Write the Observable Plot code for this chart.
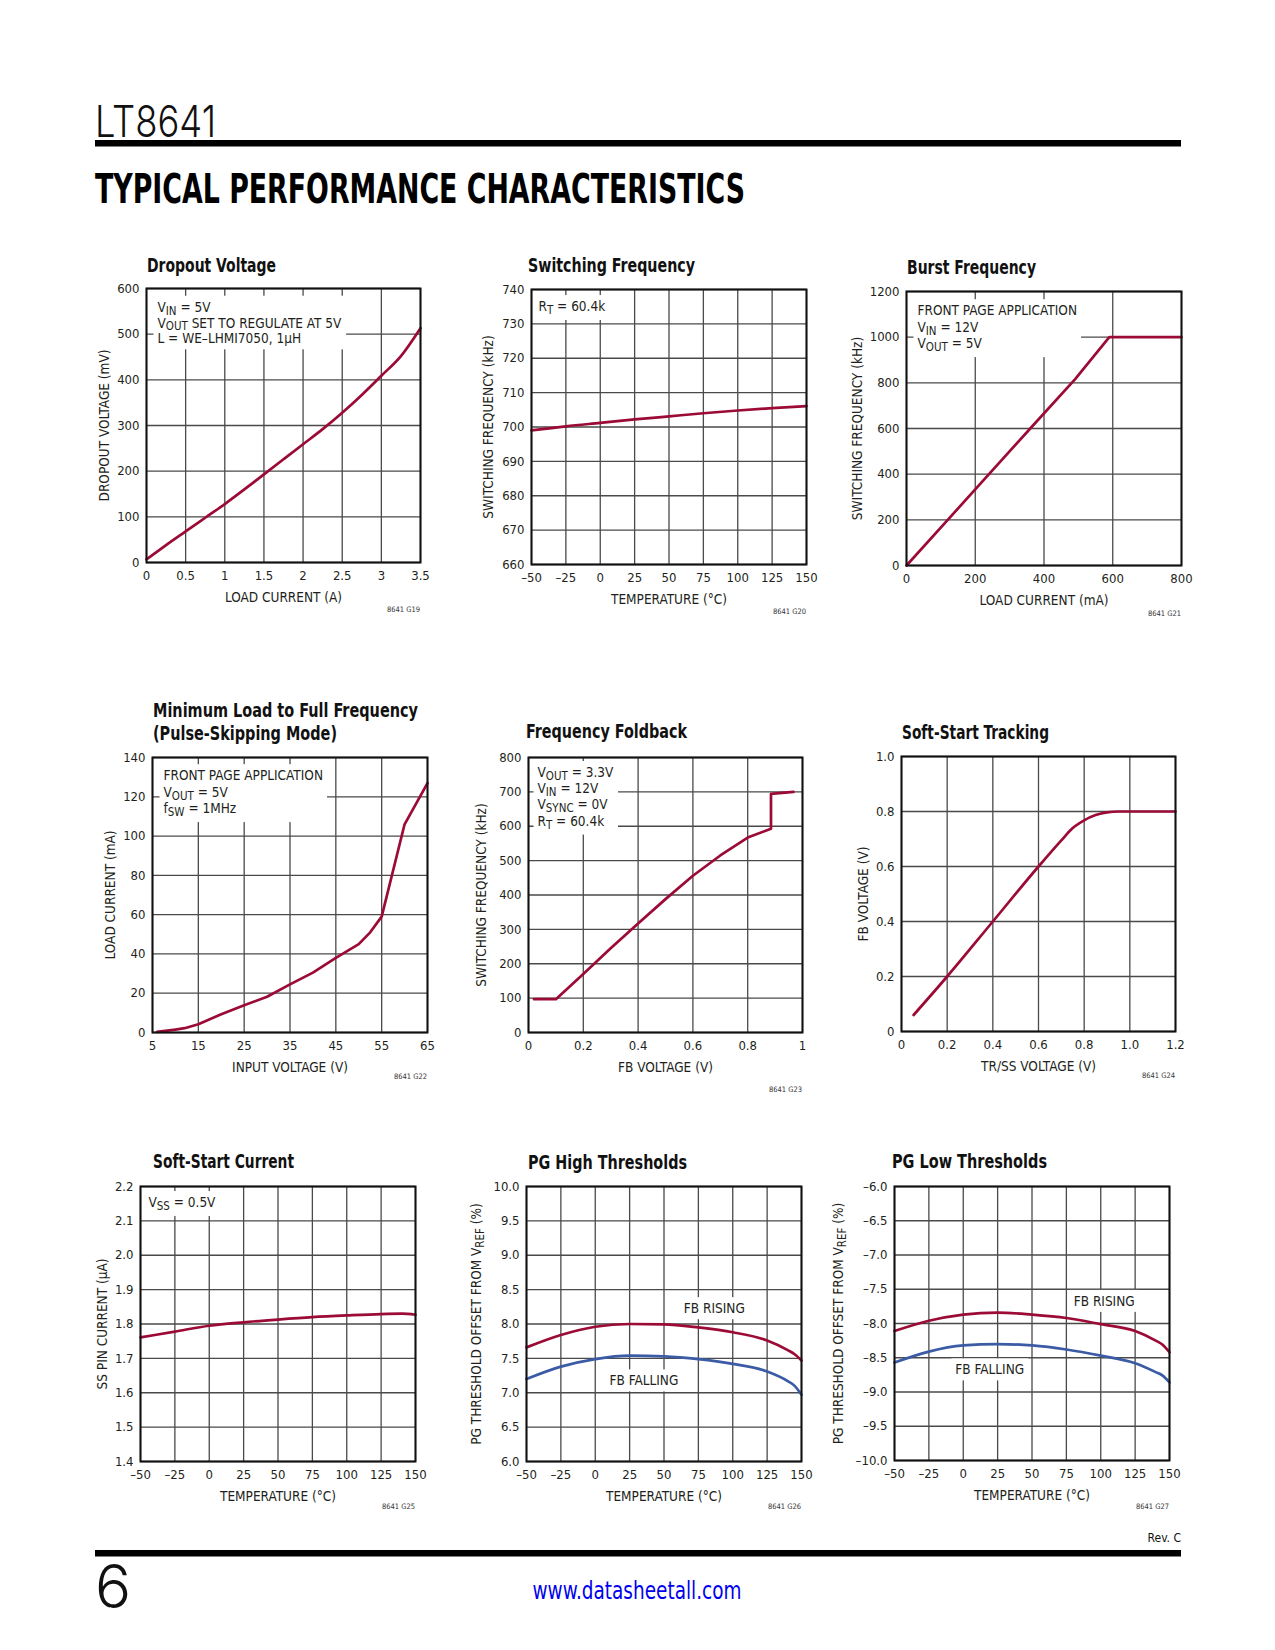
<!DOCTYPE html>
<html><head><meta charset="utf-8">
<script src="https://cdn.jsdelivr.net/npm/d3@7"></script>
<script src="https://cdn.jsdelivr.net/npm/@observablehq/plot@0.6"></script>
<style>
html,body{margin:0;padding:0;background:#fff;}
#page{position:relative;width:1275px;height:1650px;overflow:hidden;background:#fff;}
#deco{position:absolute;left:0;top:0;}
</style></head><body><div id="page"><svg id="deco" width="1275" height="1650"></svg></div>
<script>
// ---------------- DATA ----------------
// Dropout Voltage
const dropoutCurrent = [0, 0.25, 0.5, 0.75, 1, 1.25, 1.5, 1.75, 2, 2.25, 2.5, 2.75, 3, 3.25, 3.5];
const dropoutVoltage = [7, 38, 68, 98, 128, 160, 193, 226, 259, 292, 328, 367, 409, 452, 513];
const dropoutXTicks = [0, 0.5, 1, 1.5, 2, 2.5, 3, 3.5];
const dropoutYTicks = [0, 100, 200, 300, 400, 500, 600];

// Switching Frequency
const swTemp = [-50, -25, 0, 25, 50, 75, 100, 125, 150];
const swFreq = [699.0, 700.2, 701.2, 702.2, 703.1, 704.0, 704.8, 705.5, 706.1];
const tempTicks = [-50, -25, 0, 25, 50, 75, 100, 125, 150];
const swFreqTicks = [660, 670, 680, 690, 700, 710, 720, 730, 740];

// Burst Frequency
const burstLoad = [0, 120, 240, 360, 490, 590, 800];
const burstFreq = [0, 200, 400, 600, 815, 1000, 1000];
const burstXTicks = [0, 200, 400, 600, 800];
const burstYTicks = [0, 200, 400, 600, 800, 1000, 1200];

// Minimum Load to Full Frequency
const minLoadVin = [6, 10, 12, 15, 20, 25, 30, 35, 40, 45, 50, 52.5, 55, 60, 65];
const minLoadCurrent = [0.3, 1.5, 2.2, 4.2, 9.3, 13.9, 18.2, 24.5, 30.5, 38, 45, 51, 59, 106, 127];
const minLoadXTicks = [5, 15, 25, 35, 45, 55, 65];
const minLoadYTicks = [0, 20, 40, 60, 80, 100, 120, 140];

// Frequency Foldback
const foldFB = [0.02, 0.1, 0.2, 0.3, 0.4, 0.5, 0.6, 0.7, 0.8, 0.885, 0.885, 0.967];
const foldFreq = [97, 97, 170, 245, 317, 388, 456, 515, 567, 593, 694, 700];
const foldXTicks = [0, 0.2, 0.4, 0.6, 0.8, 1];
const foldYTicks = [0, 100, 200, 300, 400, 500, 600, 700, 800];

// Soft-Start Tracking
const trackSS = [0.053, 0.2, 0.4, 0.6, 0.7, 0.75, 0.8, 0.85, 0.9, 0.95, 1.0, 1.2];
const trackFB = [0.06, 0.2, 0.4, 0.6, 0.695, 0.74, 0.768, 0.787, 0.797, 0.8, 0.8, 0.8];
const trackXTicks = [0, 0.2, 0.4, 0.6, 0.8, 1.0, 1.2];
const trackYTicks = [0, 0.2, 0.4, 0.6, 0.8, 1.0];

// Soft-Start Current
const ssTemp = [-50, -25, 0, 25, 50, 75, 100, 125, 140, 150];
const ssCurrent = [1.761, 1.778, 1.795, 1.805, 1.813, 1.820, 1.825, 1.829, 1.830, 1.827];
const ssYTicks = [1.4, 1.5, 1.6, 1.7, 1.8, 1.9, 2.0, 2.1, 2.2];

// PG High Thresholds
const pgHighTemp = [-50, -25, 0, 25, 50, 75, 100, 125, 140, 145, 150];
const pgHighRising = [7.66, 7.84, 7.96, 8.0, 7.995, 7.95, 7.88, 7.76, 7.62, 7.56, 7.47];
const pgHighFalling = [7.2, 7.38, 7.49, 7.54, 7.53, 7.49, 7.42, 7.31, 7.17, 7.10, 6.97];
const pgHighYTicks = [6.0, 6.5, 7.0, 7.5, 8.0, 8.5, 9.0, 9.5, 10.0];
const pgHighLabelText = ["FB RISING", "FB FALLING"];
const pgHighLabelTemp = [86.6, 35.4];
const pgHighLabelValue = [8.22, 7.17];

// PG Low Thresholds
const pgLowTemp = [-50, -25, 0, 25, 50, 75, 100, 125, 140, 145, 150];
const pgLowRising = [-8.11, -7.96, -7.87, -7.84, -7.87, -7.92, -8.01, -8.11, -8.25, -8.31, -8.42];
const pgLowFalling = [-8.57, -8.41, -8.32, -8.30, -8.32, -8.38, -8.47, -8.58, -8.71, -8.76, -8.86];
const pgLowYTicks = [-10.0, -9.5, -9.0, -8.5, -8.0, -7.5, -7.0, -6.5, -6.0];
const pgLowLabelText = ["FB RISING", "FB FALLING"];
const pgLowLabelTemp = [102.5, 19.3];
const pgLowLabelValue = [-7.68, -8.68];

// ---------------- STYLE ----------------
const FONT = '"Liberation Sans Narrow", "Arial Narrow", "DejaVu Sans Condensed", sans-serif';
const RED = "#9b0b36";
const BLUE = "#3b5ba5";
const GRID = "#4a4a4a";
const INK = "#231f20";
const TXT = 13.5;
const SUB = 0.22;

const zip = (xs, ys) => xs.map((x, i) => ({x, y: ys[i]}));
const fmtTemp = d => d < 0 ? "–" + (-d) : String(d);
const fmt1 = d => d.toFixed(1);
const fmtPlain = d => String(d);

const page = document.getElementById("page");
const NS = "http://www.w3.org/2000/svg";

function subify(root) {
  const nodes = Array.from(root.querySelectorAll("text, tspan")).filter(n =>
    n.childNodes.length === 1 && n.firstChild.nodeType === 3 && n.textContent.includes("_{"));
  for (const n of nodes) {
    const fs = parseFloat(getComputedStyle(n).fontSize) || TXT;
    const s = n.textContent;
    while (n.firstChild) n.removeChild(n.firstChild);
    let shifted = false;
    for (const p of s.split(/(_\{[^}]*\})/)) {
      if (!p) continue;
      const t = document.createElementNS(NS, "tspan");
      if (p.startsWith("_{")) {
        t.textContent = p.slice(2, -1);
        t.setAttribute("font-size", (fs * 0.85).toFixed(2));
        if (!shifted) t.setAttribute("dy", (fs * SUB).toFixed(2));
        shifted = true;
      } else {
        t.textContent = p;
        if (shifted) t.setAttribute("dy", (-fs * SUB).toFixed(2));
        shifted = false;
      }
      n.appendChild(t);
    }
    if (shifted) {
      const t = document.createElementNS(NS, "tspan");
      t.textContent = "\u200B";
      t.setAttribute("dy", (-fs * SUB).toFixed(2));
      n.appendChild(t);
    }
  }
}

// white knock-out box behind each in-plot annotation (clears the grid, as in the reference)
function knockOut(root, pad) {
  root.querySelectorAll("g[aria-label='text'] text").forEach(t => {
    const b = t.getBBox();
    const r = document.createElementNS(NS, "rect");
    r.setAttribute("x", b.x - pad);
    r.setAttribute("y", b.y - pad + 1);
    r.setAttribute("width", b.width + 2 * pad);
    r.setAttribute("height", b.height + 2 * pad - 2);
    r.setAttribute("fill", "white");
    const tr = t.getAttribute("transform");
    if (tr) r.setAttribute("transform", tr);
    t.parentNode.insertBefore(r, t);
  });
}

function annot(data, opts) {
  return Plot.text(data, {...opts, fill: INK, fontSize: TXT});
}
function note(str, dx, dy, lineHeight) {
  return annot([str], {text: d => d, frameAnchor: "top-left", textAnchor: "start", lineAnchor: "top", dx, dy, lineHeight});
}

const ML = 74, MR = 24, MT = 14, MB = 52;
function makeChart(o) {
  const marks = [
    Plot.ruleX(o.xTicks, {stroke: GRID, strokeWidth: 1.3}),
    Plot.ruleY(o.yTicks, {stroke: GRID, strokeWidth: 1.3}),
    ...(o.notes || []),
    ...o.lines,
    Plot.frame({stroke: "#111", strokeWidth: 2})
  ];
  const svg = Plot.plot({
    width: o.fw + ML + MR, height: o.fh + MT + MB,
    marginLeft: ML, marginRight: MR, marginTop: MT, marginBottom: MB,
    style: {fontFamily: FONT, fontSize: "13px", color: INK, background: "transparent", overflow: "visible"},
    x: {domain: o.xDomain, ticks: o.xTicks, tickFormat: o.xFormat || fmtPlain, tickSize: 0, tickPadding: 8,
        label: o.xLabel, labelAnchor: "center", labelOffset: 39, labelArrow: "none"},
    y: {domain: o.yDomain, ticks: o.yTicks, tickFormat: o.yFormat || fmtPlain, tickSize: 0, tickPadding: 7,
        label: o.yLabel, labelAnchor: "center", labelOffset: o.yOffset, labelArrow: "none"},
    marks
  });
  svg.style.position = "absolute";
  svg.style.left = (o.left - ML) + "px";
  svg.style.top = (o.top - MT) + "px";
  svg.style.maxWidth = "none";
  page.appendChild(svg);
  svg.querySelectorAll("g[aria-label='x-axis label'], g[aria-label='y-axis label']").forEach(g => g.setAttribute("font-size", TXT));
  subify(svg);
  knockOut(svg, 4);
}

const redLine = (data, curve) => Plot.line(data, {x: "x", y: "y", stroke: RED, strokeWidth: 2.7, curve});
const blueLine = (data, curve) => Plot.line(data, {x: "x", y: "y", stroke: BLUE, strokeWidth: 2.7, curve});

// 1 Dropout Voltage
makeChart({left: 146, top: 288, fw: 274, fh: 274, xDomain: [0, 3.5], yDomain: [0, 600],
  xTicks: dropoutXTicks, yTicks: dropoutYTicks, xLabel: "LOAD CURRENT (A)", yLabel: "DROPOUT VOLTAGE (mV)", yOffset: 47,
  notes: [note("V_{IN} = 5V\nV_{OUT} SET TO REGULATE AT 5V\nL = WE–LHMI7050, 1µH", 11, 12, 1.17)],
  lines: [redLine(zip(dropoutCurrent, dropoutVoltage), "monotone-x")]});

// 2 Switching Frequency
makeChart({left: 531, top: 289, fw: 275, fh: 275, xDomain: [-50, 150], yDomain: [660, 740],
  xTicks: tempTicks, yTicks: swFreqTicks, xFormat: fmtTemp, xLabel: "TEMPERATURE (°C)", yLabel: "SWITCHING FREQUENCY (kHz)", yOffset: 48,
  notes: [note("R_{T} = 60.4k", 7, 11, 1.1)],
  lines: [redLine(zip(swTemp, swFreq), "monotone-x")]});

// 3 Burst Frequency
makeChart({left: 906, top: 291, fw: 275, fh: 274, xDomain: [0, 800], yDomain: [0, 1200],
  xTicks: burstXTicks, yTicks: burstYTicks, xLabel: "LOAD CURRENT (mA)", yLabel: "SWITCHING FREQUENCY (kHz)", yOffset: 54,
  notes: [note("FRONT PAGE APPLICATION\nV_{IN} = 12V\nV_{OUT} = 5V", 11, 12, 1.22)],
  lines: [redLine(zip(burstLoad, burstFreq), "linear")]});

// 4 Minimum Load to Full Frequency
makeChart({left: 152, top: 757, fw: 275, fh: 275, xDomain: [5, 65], yDomain: [0, 140],
  xTicks: minLoadXTicks, yTicks: minLoadYTicks, xLabel: "INPUT VOLTAGE (V)", yLabel: "LOAD CURRENT (mA)", yOffset: 47,
  notes: [note("FRONT PAGE APPLICATION\nV_{OUT} = 5V\nf_{SW} = 1MHz", 11, 11, 1.22)],
  lines: [redLine(zip(minLoadVin, minLoadCurrent), "linear")]});

// 5 Frequency Foldback
makeChart({left: 528, top: 757, fw: 274, fh: 275, xDomain: [0, 1], yDomain: [0, 800],
  xTicks: foldXTicks, yTicks: foldYTicks, xFormat: d => (d === 0 || d === 1) ? String(d) : d.toFixed(1),
  xLabel: "FB VOLTAGE (V)", yLabel: "SWITCHING FREQUENCY (kHz)", yOffset: 52,
  notes: [note("V_{OUT} = 3.3V\nV_{IN} = 12V\nV_{SYNC} = 0V\nR_{T} = 60.4k", 9, 8, 1.2)],
  lines: [redLine(zip(foldFB, foldFreq), "linear")]});

// 6 Soft-Start Tracking
makeChart({left: 901, top: 756, fw: 274, fh: 275, xDomain: [0, 1.2], yDomain: [0, 1],
  xTicks: trackXTicks, yTicks: trackYTicks, xFormat: d => d === 0 ? "0" : d.toFixed(1), yFormat: d => d === 0 ? "0" : d.toFixed(1),
  xLabel: "TR/SS VOLTAGE (V)", yLabel: "FB VOLTAGE (V)", yOffset: 43,
  lines: [redLine(zip(trackSS, trackFB), "monotone-x")]});

// 7 Soft-Start Current
makeChart({left: 140, top: 1186, fw: 275, fh: 275, xDomain: [-50, 150], yDomain: [1.4, 2.2],
  xTicks: tempTicks, yTicks: ssYTicks, xFormat: fmtTemp, yFormat: fmt1,
  xLabel: "TEMPERATURE (°C)", yLabel: "SS PIN CURRENT (µA)", yOffset: 43,
  notes: [note("V_{SS} = 0.5V", 8, 10, 1.1)],
  lines: [redLine(zip(ssTemp, ssCurrent), "monotone-x")]});

// 8 PG High Thresholds
makeChart({left: 526, top: 1186, fw: 275, fh: 275, xDomain: [-50, 150], yDomain: [6, 10],
  xTicks: tempTicks, yTicks: pgHighYTicks, xFormat: fmtTemp, yFormat: fmt1,
  xLabel: "TEMPERATURE (°C)", yLabel: "PG THRESHOLD OFFSET FROM V_{REF} (%)", yOffset: 55,
  notes: [annot(pgHighLabelText.map((t, i) => ({t, x: pgHighLabelTemp[i], y: pgHighLabelValue[i]})), {x: "x", y: "y", text: "t"})],
  lines: [redLine(zip(pgHighTemp, pgHighRising), "monotone-x"), blueLine(zip(pgHighTemp, pgHighFalling), "monotone-x")]});

// 9 PG Low Thresholds
makeChart({left: 894, top: 1186, fw: 275, fh: 274, xDomain: [-50, 150], yDomain: [-10, -6],
  xTicks: tempTicks, yTicks: pgLowYTicks, xFormat: fmtTemp, yFormat: d => "–" + (-d).toFixed(1),
  xLabel: "TEMPERATURE (°C)", yLabel: "PG THRESHOLD OFFSET FROM V_{REF} (%)", yOffset: 61,
  notes: [annot(pgLowLabelText.map((t, i) => ({t, x: pgLowLabelTemp[i], y: pgLowLabelValue[i]})), {x: "x", y: "y", text: "t"})],
  lines: [redLine(zip(pgLowTemp, pgLowRising), "monotone-x"), blueLine(zip(pgLowTemp, pgLowFalling), "monotone-x")]});

// ---------------- PAGE DECORATION ----------------
const deco = d3.select("#deco");
deco.append("text").attr("x", 95).attr("y", 137)
  .attr("font-family", '"Inter", "Liberation Sans", sans-serif').attr("font-weight", 300)
  .attr("font-size", 44).attr("textLength", 121).attr("lengthAdjust", "spacingAndGlyphs")
  .attr("fill", "#111").text("LT8641");
deco.append("rect").attr("x", 95).attr("y", 140).attr("width", 1086).attr("height", 6.5).attr("fill", "#000");
deco.append("text").attr("x", 95).attr("y", 203)
  .attr("font-family", '"DejaVu Sans Condensed", "DejaVu Sans", sans-serif').attr("font-weight", "bold")
  .attr("font-size", 40).attr("textLength", 650).attr("lengthAdjust", "spacingAndGlyphs")
  .attr("fill", "#000").text("TYPICAL PERFORMANCE CHARACTERISTICS");

const titles = [
  {t: "Dropout Voltage", x: 147, y: 272, w: 129},
  {t: "Switching Frequency", x: 528, y: 272, w: 167},
  {t: "Burst Frequency", x: 907, y: 274, w: 129},
  {t: "Minimum Load to Full Frequency", x: 153, y: 717, w: 265},
  {t: "(Pulse-Skipping Mode)", x: 153, y: 740, w: 184},
  {t: "Frequency Foldback", x: 526, y: 738, w: 161},
  {t: "Soft-Start Tracking", x: 902, y: 739, w: 147},
  {t: "Soft-Start Current", x: 153, y: 1168, w: 141},
  {t: "PG High Thresholds", x: 528, y: 1169, w: 159},
  {t: "PG Low Thresholds", x: 892, y: 1168, w: 155}
];
for (const d of titles) {
  deco.append("text").attr("x", d.x).attr("y", d.y).attr("font-family", FONT).attr("font-weight", "bold")
    .attr("font-size", 19).attr("textLength", d.w).attr("lengthAdjust", "spacingAndGlyphs")
    .attr("fill", "#111").text(d.t);
}
const codes = [
  {t: "8641 G19", x: 420, y: 612}, {t: "8641 G20", x: 806, y: 614}, {t: "8641 G21", x: 1181, y: 616},
  {t: "8641 G22", x: 427, y: 1079}, {t: "8641 G23", x: 802, y: 1092}, {t: "8641 G24", x: 1175, y: 1078},
  {t: "8641 G25", x: 415, y: 1509}, {t: "8641 G26", x: 801, y: 1509}, {t: "8641 G27", x: 1169, y: 1509}
];
for (const d of codes) {
  deco.append("text").attr("x", d.x).attr("y", d.y).attr("text-anchor", "end").attr("font-family", FONT)
    .attr("font-size", 7.5).attr("fill", "#333").text(d.t);
}
deco.append("text").attr("x", 1181).attr("y", 1542).attr("text-anchor", "end").attr("font-family", FONT)
  .attr("font-size", 12).attr("fill", "#111").text("Rev. C");
deco.append("rect").attr("x", 95).attr("y", 1550).attr("width", 1086).attr("height", 6.5).attr("fill", "#000");
deco.append("text").attr("x", 95).attr("y", 1608)
  .attr("font-family", '"Inter", "Liberation Sans", sans-serif').attr("font-weight", 300)
  .attr("font-size", 60).attr("fill", "#111").text("6");
deco.append("text").attr("x", 637).attr("y", 1599).attr("text-anchor", "middle").attr("font-family", FONT)
  .attr("font-size", 24).attr("textLength", 209).attr("lengthAdjust", "spacingAndGlyphs")
  .attr("fill", "#0000ee").text("www.datasheetall.com");
</script></body></html>
